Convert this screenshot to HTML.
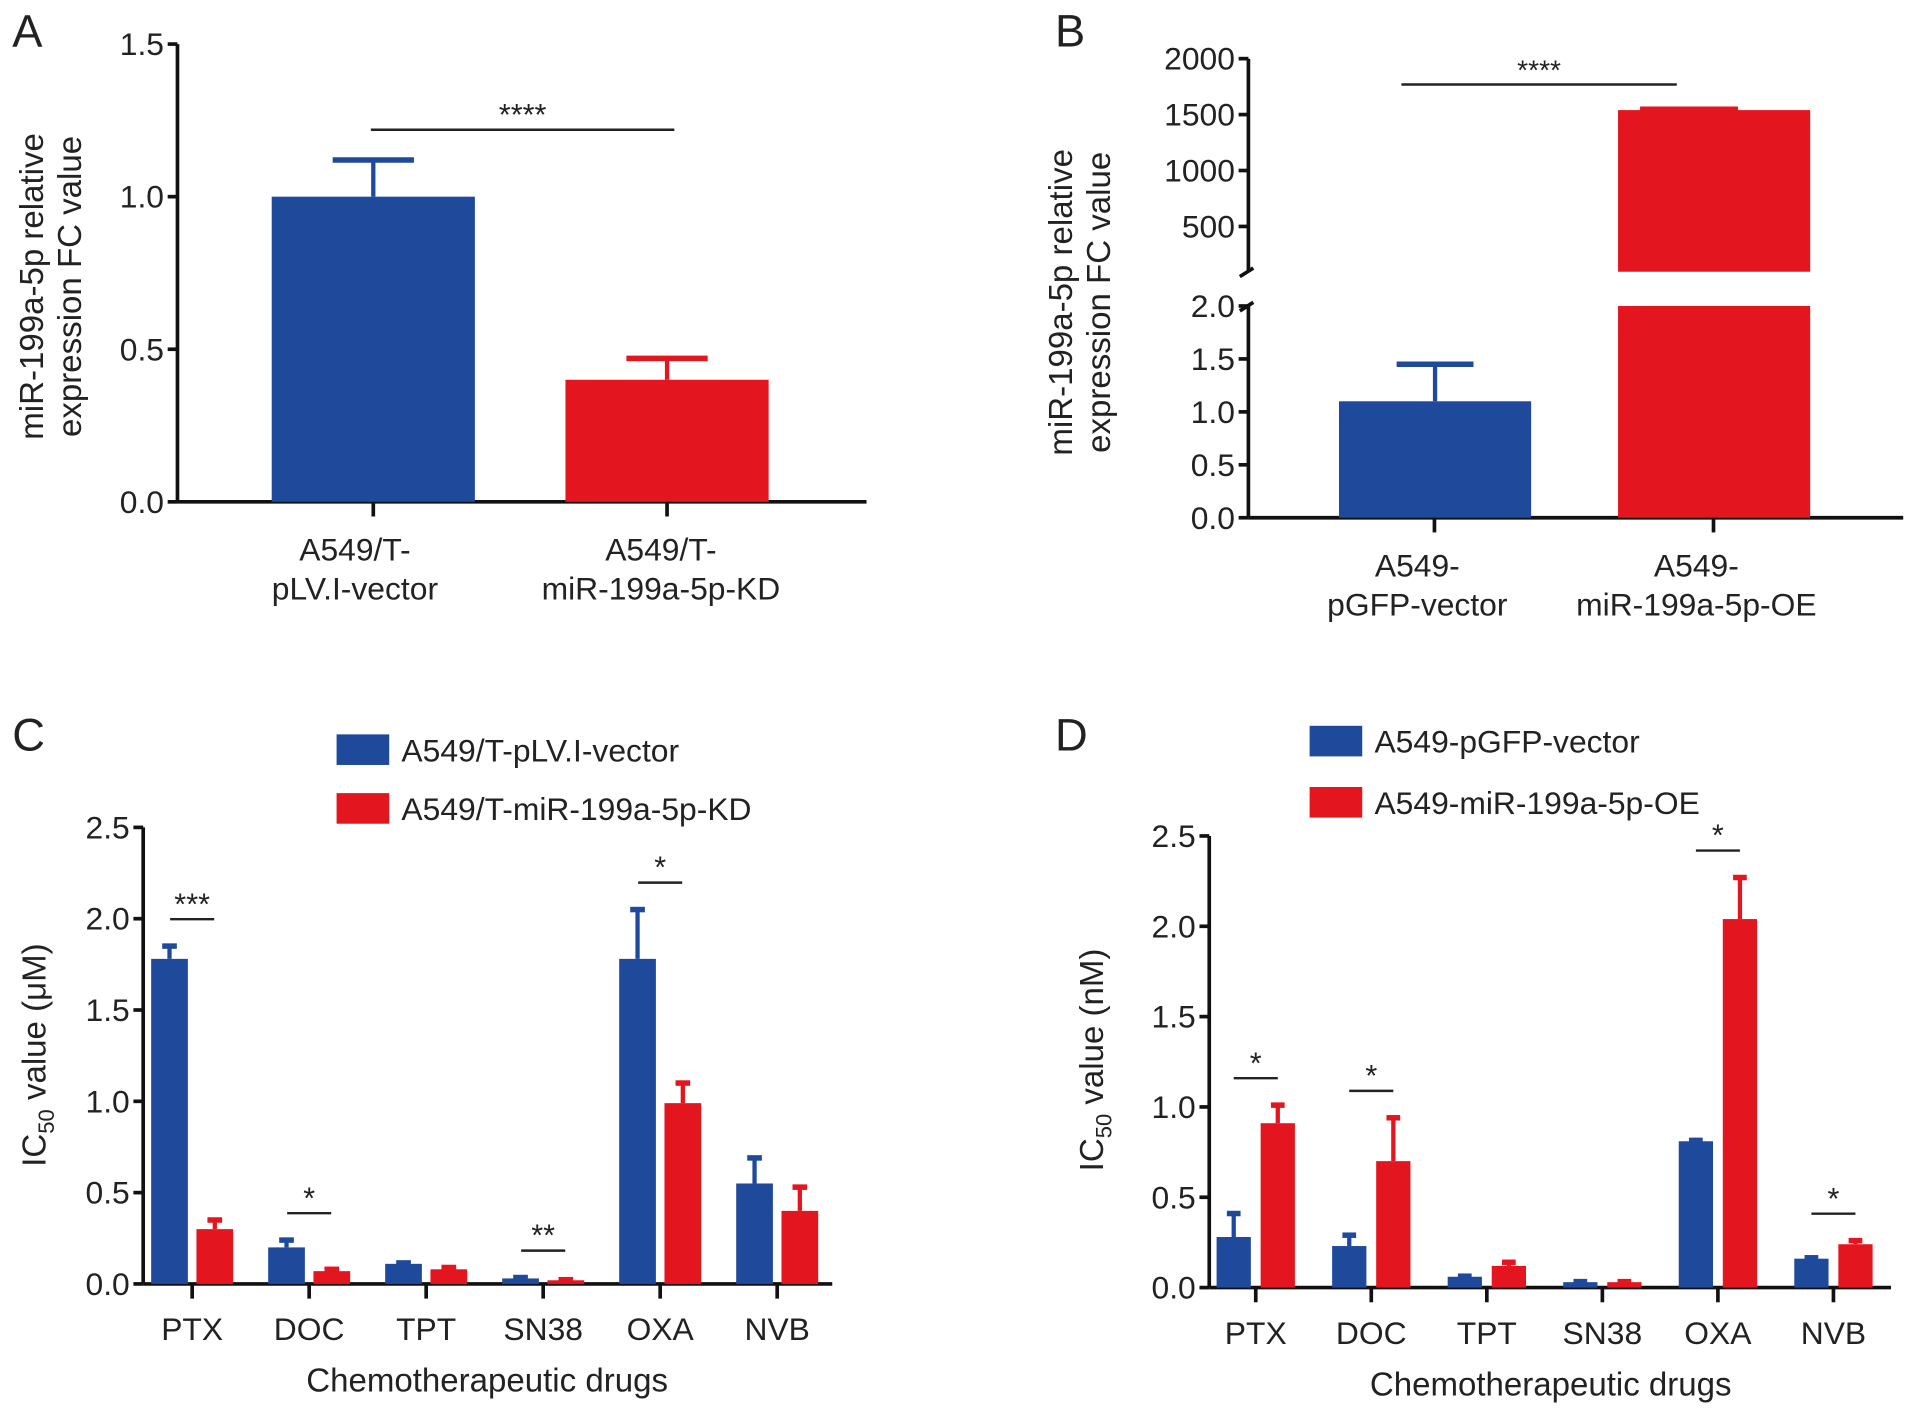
<!DOCTYPE html>
<html><head><meta charset="utf-8"><style>
html,body{margin:0;padding:0;background:#fff}
svg{display:block;font-family:"Liberation Sans",Arial,sans-serif}
</style></head><body>
<svg id="fig" width="1913" height="1410" viewBox="0 0 1563 1152" xmlns="http://www.w3.org/2000/svg"></svg>
<script>
// Panel A data
const aCategories = ["A549/T-\npLV.I-vector", "A549/T-\nmiR-199a-5p-KD"];
const aValues = [1.0, 0.4];
const aErrors = [0.12, 0.07];
const aTicks = [0, 0.5, 1.0, 1.5];
// Panel B data
const bCategories = ["A549-\npGFP-vector", "A549-\nmiR-199a-5p-OE"];
const bValues = [1.1, 1540];
const bErrors = [0.35, 10];
const bTicksLow = [0, 0.5, 1.0, 1.5, 2.0];
const bTicksHigh = [500, 1000, 1500, 2000];
// Panel C data
const cCategories = ["PTX","DOC","TPT","SN38","OXA","NVB"];
const cVector = [1.78, 0.20, 0.11, 0.03, 1.78, 0.55];
const cVectorErr = [0.07, 0.04, 0.005, 0.005, 0.27, 0.14];
const cKD = [0.30, 0.07, 0.08, 0.02, 0.99, 0.40];
const cKDErr = [0.05, 0.01, 0.01, 0.003, 0.11, 0.13];
const cSig = ["***","*","","**","*",""];
const cTicks = [0, 0.5, 1.0, 1.5, 2.0, 2.5];
// Panel D data
const dCategories = ["PTX","DOC","TPT","SN38","OXA","NVB"];
const dVector = [0.28, 0.23, 0.06, 0.03, 0.81, 0.16];
const dVectorErr = [0.13, 0.06, 0.003, 0.003, 0.005, 0.005];
const dOE = [0.91, 0.70, 0.12, 0.03, 2.04, 0.24];
const dOEErr = [0.10, 0.24, 0.02, 0.003, 0.23, 0.02];
const dSig = ["*","*","","","*","*"];
const dTicks = [0, 0.5, 1.0, 1.5, 2.0, 2.5];

const NS="http://www.w3.org/2000/svg";
const svg=document.getElementById('fig');
const BLUE="#1f4a9c", RED="#e3161f";
const TICK=26, XL=26, YT=27;
function mk(tag,attrs,parent){const e=document.createElementNS(NS,tag);for(const k in attrs)e.setAttribute(k,attrs[k]);(parent||svg).appendChild(e);return e;}
function txt(x,y,s,size,anchor,parent){const t=mk('text',{x:x,y:y,'font-size':size,'text-anchor':anchor||'middle',fill:'#222'},parent);t.textContent=s;return t;}
function fmt(v){return v.toFixed(1);}

function panelLetter(x,y,s){const t=txt(x,y,s,37,'start');}

function axes(g,x0,x1,yTop,yBase,ticks,scale){
  const ax=mk('line',{x1:x0,y1:yTop,x2:x0,y2:yBase,stroke:'#111','stroke-width':3},g);
  
  const bx=mk('line',{x1:x0,y1:yBase,x2:x1,y2:yBase,stroke:'#111','stroke-width':3},g);
  
  ticks.forEach(v=>{const y=scale(v);mk('line',{x1:x0-8,y1:y,x2:x0,y2:y,stroke:'#111','stroke-width':3},g);
    const t=txt(x0-11,y+9,fmt(v),TICK,'end',g);});
}
function bar(g,x,w,v,err,scale,color,base,name){
  const y=scale(v);
  const r=mk('rect',{x:x,y:y,width:w,height:base-y,fill:color},g);
  
  if(err>0){const ye=scale(v+err);const cx=x+w/2;
    mk('line',{x1:cx,y1:y,x2:cx,y2:ye,stroke:color,'stroke-width':3.5},g);
    mk('line',{x1:cx-w*0.2,y1:ye,x2:cx+w*0.2,y2:ye,stroke:color,'stroke-width':4.5},g);}
}
function sig(g,xa,xb,y,s,size){mk('line',{x1:xa,y1:y,x2:xb,y2:y,stroke:'#222','stroke-width':2},g);
  const t=txt((xa+xb)/2,y-4,s,size||25,'middle',g);}
function ytitle(g,x,y,lines,size){const t=mk('text',{transform:`translate(${x},${y}) rotate(-90)`,'font-size':size,'text-anchor':'middle',fill:'#222'},g);
  lines.forEach((l,i)=>{const ts=mk('tspan',{x:0,dy:i?31:0},t);ts.textContent=l;});return t;}
function xlabel(g,x,y,s){s.split('\n').forEach((l,i)=>{const t=txt(x,y+i*32,l,XL,'middle',g);});}

// ---------- Panel A ----------
(function(){
  const g=mk('g',{});
  panelLetter(10,38,'A');
  const base=410, top=36, sc=v=>base-(v/1.5)*(base-top);
  axes(g,145,708,top,base,aTicks,sc);
  const centers=[305,545], w=166, cols=[BLUE,RED];
  aValues.forEach((v,i)=>{bar(g,centers[i]-83,w,v,aErrors[i],sc,cols[i],base,'bar-'+i);
    mk('line',{x1:centers[i],y1:base,x2:centers[i],y2:base+12,stroke:'#111','stroke-width':3},g);
    xlabel(g,centers[i]+(i?-5:-15),458,aCategories[i]);});
  sig(g,303,551,106,'****',25);
  ytitle(g,35,234,['miR-199a-5p relative','expression FC value'],YT);
})();

// ---------- Panel B ----------
(function(){
  const g=mk('g',{});
  panelLetter(862,38,'B');
  const x0=1020, base=423, lowTop=250, scL=v=>base-(v/2)*(base-lowTop);
  const scH=v=>185-(v-500)/500*45.7;
  const hb=222;
  mk('line',{x1:x0,y1:lowTop,x2:x0,y2:base,stroke:'#111','stroke-width':3},g);
  mk('line',{x1:x0,y1:48,x2:x0,y2:hb,stroke:'#111','stroke-width':3},g);
  mk('line',{x1:x0-7,y1:hb+4,x2:x0+4,y2:hb-3,stroke:'#111','stroke-width':3},g);
  mk('line',{x1:x0-7,y1:lowTop+4,x2:x0+4,y2:lowTop-3,stroke:'#111','stroke-width':3},g);
  mk('line',{x1:x0,y1:base,x2:1555,y2:base,stroke:'#111','stroke-width':3},g);
  bTicksLow.forEach(v=>{const y=scL(v);mk('line',{x1:x0-8,y1:y,x2:x0,y2:y,stroke:'#111','stroke-width':3},g);const t=txt(x0-11,y+9,fmt(v),TICK,'end',g);});
  bTicksHigh.forEach(v=>{const y=scH(v);mk('line',{x1:x0-8,y1:y,x2:x0,y2:y,stroke:'#111','stroke-width':3},g);const t=txt(x0-11,y+9,String(v),TICK,'end',g);});
  const centers=[1172,1400], w=157;
  bar(g,centers[0]-78,w,bValues[0],bErrors[0],scL,BLUE,base,'bar-vector');
  const rl=mk('rect',{x:centers[1]-78,y:lowTop,width:w,height:base-lowTop,fill:RED},g);
  
  const yv=scH(bValues[1]);
  const ru=mk('rect',{x:centers[1]-78,y:yv,width:w,height:hb-yv,fill:RED},g);
  
  mk('line',{x1:centers[1]-60,y1:scH(bValues[1]+bErrors[1]),x2:centers[1]+20,y2:scH(bValues[1]+bErrors[1]),stroke:RED,'stroke-width':4},g);
  centers.forEach((c,i)=>{mk('line',{x1:c,y1:base,x2:c,y2:base+12,stroke:'#111','stroke-width':3},g);xlabel(g,c-14,471,bCategories[i]);});
  sig(g,1145,1370,69,'****',23);
  ytitle(g,876,247,['miR-199a-5p relative','expression FC value'],YT);
})();

// ---------- grouped panels ----------
function grouped(opt){
  const g=mk('g',{});
  panelLetter(opt.lx,opt.ly,opt.letter);
  const sc=v=>opt.base-(v/2.5)*(opt.base-opt.top);
  axes(g,opt.x0,opt.x1,opt.top,opt.base,opt.ticks,sc);
  opt.cats.forEach((c,i)=>{
    const cx=opt.x0+opt.first+i*opt.step;
    bar(g,cx-opt.bw-opt.gap/2,opt.bw,opt.s1[i],opt.e1[i],sc,BLUE,opt.base,'bar-'+c.toLowerCase()+'-blue');
    bar(g,cx+opt.gap/2,opt.bw,opt.s2[i],opt.e2[i],sc,RED,opt.base,'bar-'+c.toLowerCase()+'-red');
    mk('line',{x1:cx,y1:opt.base,x2:cx,y2:opt.base+12,stroke:'#111','stroke-width':3},g);
    const t=txt(cx,opt.base+46,c,XL,'middle',g);
    if(opt.sig[i]){const top=Math.max(opt.s1[i]+opt.e1[i],opt.s2[i]+opt.e2[i]);
      const y=sc(top)-opt.sigOff;sig(g,cx-18,cx+18,y,opt.sig[i],25);}
  });
  const tt=txt(opt.titleX,opt.base+88,'Chemotherapeutic drugs',YT,'middle',g);
  const yt=mk('text',{transform:`translate(${opt.ytx},${opt.yty}) rotate(-90)`,'font-size':YT,'text-anchor':'middle',fill:'#222'},g);
  
  const a=mk('tspan',{},yt);a.textContent='IC';const b=mk('tspan',{'font-size':18,dy:7},yt);b.textContent='50';
  const c2=mk('tspan',{dy:-7},yt);c2.textContent=' value ('+opt.unit+')';
  opt.legend.forEach((l,i)=>{
    const y=opt.legY+i*opt.legStep;
    const r=mk('rect',{x:opt.legX,y:y,width:43,height:25,fill:i?RED:BLUE},g);
    
    const t=txt(opt.legX+53,y+22,l,XL,'start',g);
  });
}
grouped({name:'panel-c',letter:'C',lx:10,ly:613,x0:117,x1:680,top:676,base:1049,ticks:cTicks,
  cats:cCategories,s1:cVector,e1:cVectorErr,s2:cKD,e2:cKDErr,sig:cSig,first:40,step:95.6,bw:30,gap:7,sigOff:22,
  titleX:398,ytx:37,yty:862,unit:'μM',legend:['A549/T-pLV.I-vector','A549/T-miR-199a-5p-KD'],legX:275,legY:600,legStep:48});
grouped({name:'panel-d',letter:'D',lx:862,ly:613,x0:988,x1:1545,top:683,base:1052,ticks:dTicks,
  cats:dCategories,s1:dVector,e1:dVectorErr,s2:dOE,e2:dOEErr,sig:dSig,first:38,step:94.4,bw:28,gap:8,sigOff:22,
  titleX:1267,ytx:901,yty:866,unit:'nM',legend:['A549-pGFP-vector','A549-miR-199a-5p-OE'],legX:1070,legY:593,legStep:50});
</script>
</body></html>
